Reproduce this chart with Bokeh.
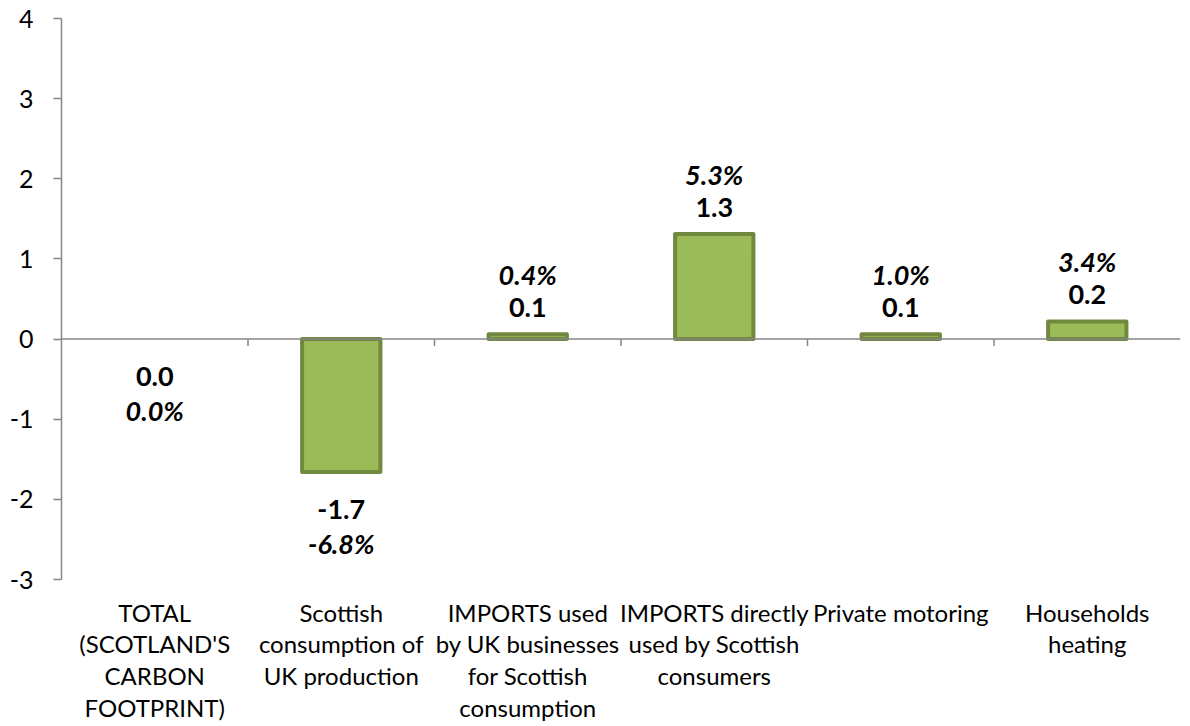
import math
from bokeh.plotting import figure
from bokeh.models import Range1d, FixedTicker, Span, ColumnDataSource, LinearAxis
from bokeh.core.properties import value
from bokeh.embed import file_html
from bokeh.resources import INLINE

categories = [
    "TOTAL\n(SCOTLAND'S\nCARBON\nFOOTPRINT)",
    "Scottish\nconsumption of\nUK production",
    "IMPORTS used\nby UK businesses\nfor Scottish\nconsumption",
    "IMPORTS directly\nused by Scottish\nconsumers",
    "Private motoring",
    "Households\nheating",
]
values = [0.0, -1.66, 0.06, 1.31, 0.06, 0.22]
value_labels = ["0.0", "-1.7", "0.1", "1.3", "0.1", "0.2"]
pct_labels = ["0.0%", "-6.8%", "0.4%", "5.3%", "1.0%", "3.4%"]
y_ticks = [-3, -2, -1, 0, 1, 2, 3, 4]

FONT = "Lato"
AXIS_COLOR = "#868686"
FILL = "#9BBB59"
EDGE = "#71893F"

n = len(categories)
xs = [i + 0.5 for i in range(n)]

p = figure(width=1182, height=726, output_backend="svg", toolbar_location=None,
           x_range=Range1d(0, n), y_range=Range1d(min(y_ticks), max(y_ticks)),
           min_border_left=61, min_border_right=2, min_border_top=18, min_border_bottom=147,
           x_axis_location=None)
p.outline_line_color = None
p.xgrid.visible = False
p.ygrid.visible = False
p.background_fill_color = "white"
p.border_fill_color = "white"

# y axis
ya = p.yaxis[0]
ya.ticker = FixedTicker(ticks=y_ticks)
ya.major_label_overrides = {t: str(t) for t in y_ticks}
ya.axis_line_color = AXIS_COLOR
ya.axis_line_width = 1.5
ya.major_tick_line_color = AXIS_COLOR
ya.major_tick_line_width = 1.5
ya.major_tick_out = 8
ya.major_tick_in = 0
ya.minor_tick_line_color = None
ya.major_label_text_font = FONT
ya.major_label_text_font_size = "25px"
ya.major_label_text_color = "black"
ya.major_label_standoff = 20

# category label axis (below), no line / ticks
xa = LinearAxis(ticker=FixedTicker(ticks=xs),
                major_label_overrides={x: c for x, c in zip(xs, categories)})
xa.axis_line_color = None
xa.major_tick_line_color = None
xa.minor_tick_line_color = None
xa.major_label_text_font = FONT
xa.major_label_text_font_size = "24px"
xa.major_label_text_color = "black"
xa.major_label_standoff = 12
xa.major_label_text_line_height = 1.1
p.add_layout(xa, "below")

# zero line with category boundary ticks
p.add_layout(Span(location=0, dimension="width", line_color=AXIS_COLOR, line_width=1.5))
bounds = list(range(1, n))
p.ray(x=bounds, y=[0] * len(bounds), length=7, length_units="screen",
      angle=-math.pi / 2, line_color=AXIS_COLOR, line_width=1.5)

# bars (a zero-height bar draws nothing)
src = ColumnDataSource(dict(x=xs, top=values,
                            lc=[EDGE if v != 0 else None for v in values],
                            fc=[FILL if v != 0 else None for v in values]))
p.vbar(x="x", top="top", bottom=0, width=0.42, source=src,
       fill_color="fc", line_color="lc", line_width=4, line_join="round")

# data labels
pos = [v > 0 for v in values]
val_src = ColumnDataSource(dict(
    x=xs, y=values, t=value_labels,
    yo=[-27 if s else 37 for s in pos]))
pct_src = ColumnDataSource(dict(
    x=xs, y=values, t=pct_labels,
    yo=[-60 if s else 71 for s in pos]))
p.text(x="x", y="y", text="t", y_offset="yo", source=val_src,
       text_font=value(FONT), text_font_style="bold", text_font_size="27px",
       text_align="center", text_baseline="middle", text_color="black")
p.text(x="x", y="y", text="t", y_offset="yo", source=pct_src,
       text_font=value(FONT), text_font_style="bold italic", text_font_size="27px",
       text_align="center", text_baseline="middle", text_color="black")

open("out.html", "w").write(file_html(p, INLINE))
